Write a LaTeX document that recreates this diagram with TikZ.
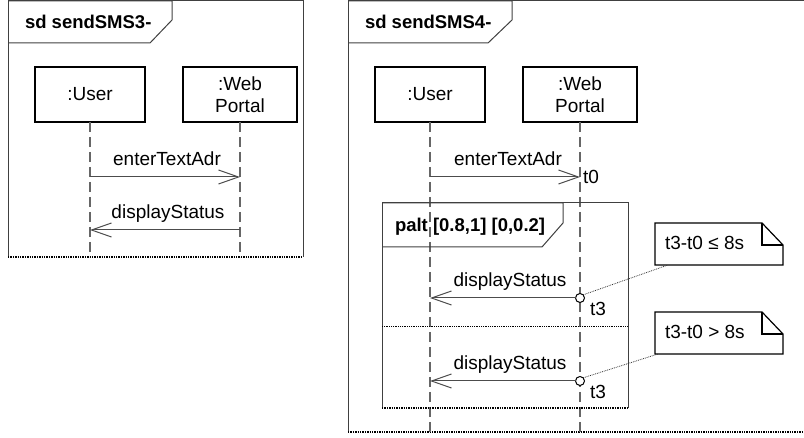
\documentclass[tikz,border=0pt]{standalone}
\usepackage{fontspec}
\setmainfont{Liberation Sans}
\usetikzlibrary{arrows.meta}
\begin{document}
\begin{tikzpicture}[x=1pt,y=-1pt,
  every node/.style={inner sep=0pt, outer sep=0pt, font=\fontsize{19}{22}\selectfont},
  frameline/.style={draw=black!75, line width=1pt},
  framebottom/.style={draw=black, line width=1.4pt, densely dotted},
  hdr/.style={anchor=base west, font=\fontsize{18.5}{22}\selectfont\bfseries},
  lifebox/.style={draw=black, line width=1.2pt, minimum width=110pt, minimum height=55pt, align=center, fill=white},
  lifeline/.style={draw=black!60, line width=1.2pt, dash pattern=on 10pt off 5pt},
  msg/.style={draw=black!70, line width=1pt, -{Straight Barb[length=20pt,width=14pt,line width=1pt]}},
  msglabel/.style={anchor=base},
  timelabel/.style={anchor=base west},
  tick/.style={draw=black, line width=1pt, fill=white},
  notebox/.style={minimum width=128pt, minimum height=42pt},
  noteline/.style={draw=black, line width=1.2pt, fill=white},
  notelink/.style={draw=black!80, line width=0.8pt, densely dotted}
]
\useasboundingbox (0,0) rectangle (804,438);

% ---------------- panel 1 ----------------
\coordinate (f1tl) at (8,1);
\coordinate (f1br) at (303,257);
\draw[frameline] (8,257) -- (f1tl) -- (303,1) -- (f1br);
\draw[framebottom] (8,257) -- (f1br);
\draw[frameline] (8,1) -- (172,1) -- (172,20) -- (150,43) -- (8,43);
\node[hdr] (h1) at (25,29) {sd sendSMS3-};

\node[lifebox] (u1) at (90,94.5) {:User};
\node[lifebox, minimum width=114pt] (w1) at (240,94.5) {:Web\\Portal};
\coordinate (u1end) at (90,257);
\coordinate (w1end) at (240,257);
\draw[lifeline] (u1.south) -- (u1end);
\draw[lifeline] (w1.south) -- (w1end);

\coordinate (p1a) at (90,177);
\coordinate (p1b) at (240,177);
\draw[msg] (p1a) -- (p1b);
\node[msglabel] (l1a) at (167,166) {enterTextAdr};
\coordinate (p1c) at (240,230);
\coordinate (p1d) at (90,230);
\draw[msg] (p1c) -- (p1d);
\node[msglabel] (l1b) at (168,219) {displayStatus};

% ---------------- panel 2 ----------------
\coordinate (f2tl) at (348,1);
\coordinate (f2br) at (808,432);
\draw[frameline] (348,432) -- (f2tl) -- (808,1);
\draw[framebottom] (348,432) -- (f2br);
\draw[frameline] (348,1) -- (512,1) -- (512,20) -- (488,43) -- (348,43);
\node[hdr] (h2) at (365,29) {sd sendSMS4-};

\node[lifebox] (u2) at (430,94.5) {:User};
\node[lifebox, minimum width=114pt] (w2) at (580,94.5) {:Web\\Portal};
\coordinate (u2end) at (430,432);
\coordinate (w2end) at (580,432);
\draw[lifeline] (u2.south) -- (u2end);
\draw[lifeline] (w2.south) -- (w2end);

\coordinate (p2a) at (430,177);
\coordinate (p2b) at (580,177);
\draw[msg] (p2a) -- (p2b);
\node[msglabel] (l2a) at (508,166) {enterTextAdr};
\node[timelabel] (t0) at (583,183.5) {t0};

% palt fragment
\draw[frameline] (382,408) -- (382,203) -- (628,203) -- (628,408);
\draw[framebottom] (382,408) -- (628,408);
\draw[frameline] (382,203) -- (563,203) -- (563,223) -- (542,247) -- (382,247);
\node[hdr] (palt) at (395,232) {palt [0.8,1] [0,0.2]};
\draw[draw=black, line width=0.8pt, densely dotted] (382,326) -- (628,326);

% first alternative
\node[tick, circle, minimum size=9pt] (c1) at (580,298) {};
\coordinate (p3) at (430,298);
\draw[msg] (c1.west) -- (p3);
\node[msglabel] (l3) at (510,287) {displayStatus};
\node[timelabel] (t3a) at (590,316) {t3};

% second alternative
\node[tick, circle, minimum size=9pt] (c2) at (580,381) {};
\coordinate (p4) at (430,381);
\draw[msg] (c2.west) -- (p4);
\node[msglabel] (l4) at (510,370) {displayStatus};
\node[timelabel] (t3b) at (590,399) {t3};

% notes
\node[notebox] (n1) at (719,244) {};
\draw[noteline] (n1.south west) -- (n1.north west) -- ([xshift=-21pt]n1.north east)
  -- ([yshift=-22pt]n1.north east) -- (n1.south east) -- cycle;
\draw[noteline, fill=none] ([xshift=-21pt]n1.north east) -- ([xshift=-21pt,yshift=-22pt]n1.north east) -- ([yshift=-22pt]n1.north east);
\node[anchor=base west] (n1t) at (665,250) {t3-t0 ≤ 8s};

\node[notebox] (n2) at (719,333) {};
\draw[noteline] (n2.south west) -- (n2.north west) -- ([xshift=-21pt]n2.north east)
  -- ([yshift=-22pt]n2.north east) -- (n2.south east) -- cycle;
\draw[noteline, fill=none] ([xshift=-21pt]n2.north east) -- ([xshift=-21pt,yshift=-22pt]n2.north east) -- ([yshift=-22pt]n2.north east);
\node[anchor=base west] (n2t) at (665,339) {t3-t0 > 8s};

\coordinate (n1a) at (668,265);
\coordinate (n2a) at (658,354);
\draw[notelink] (c1.north east) -- (n1a);
\draw[notelink] (c2.north east) -- (n2a);
\end{tikzpicture}
\end{document}
